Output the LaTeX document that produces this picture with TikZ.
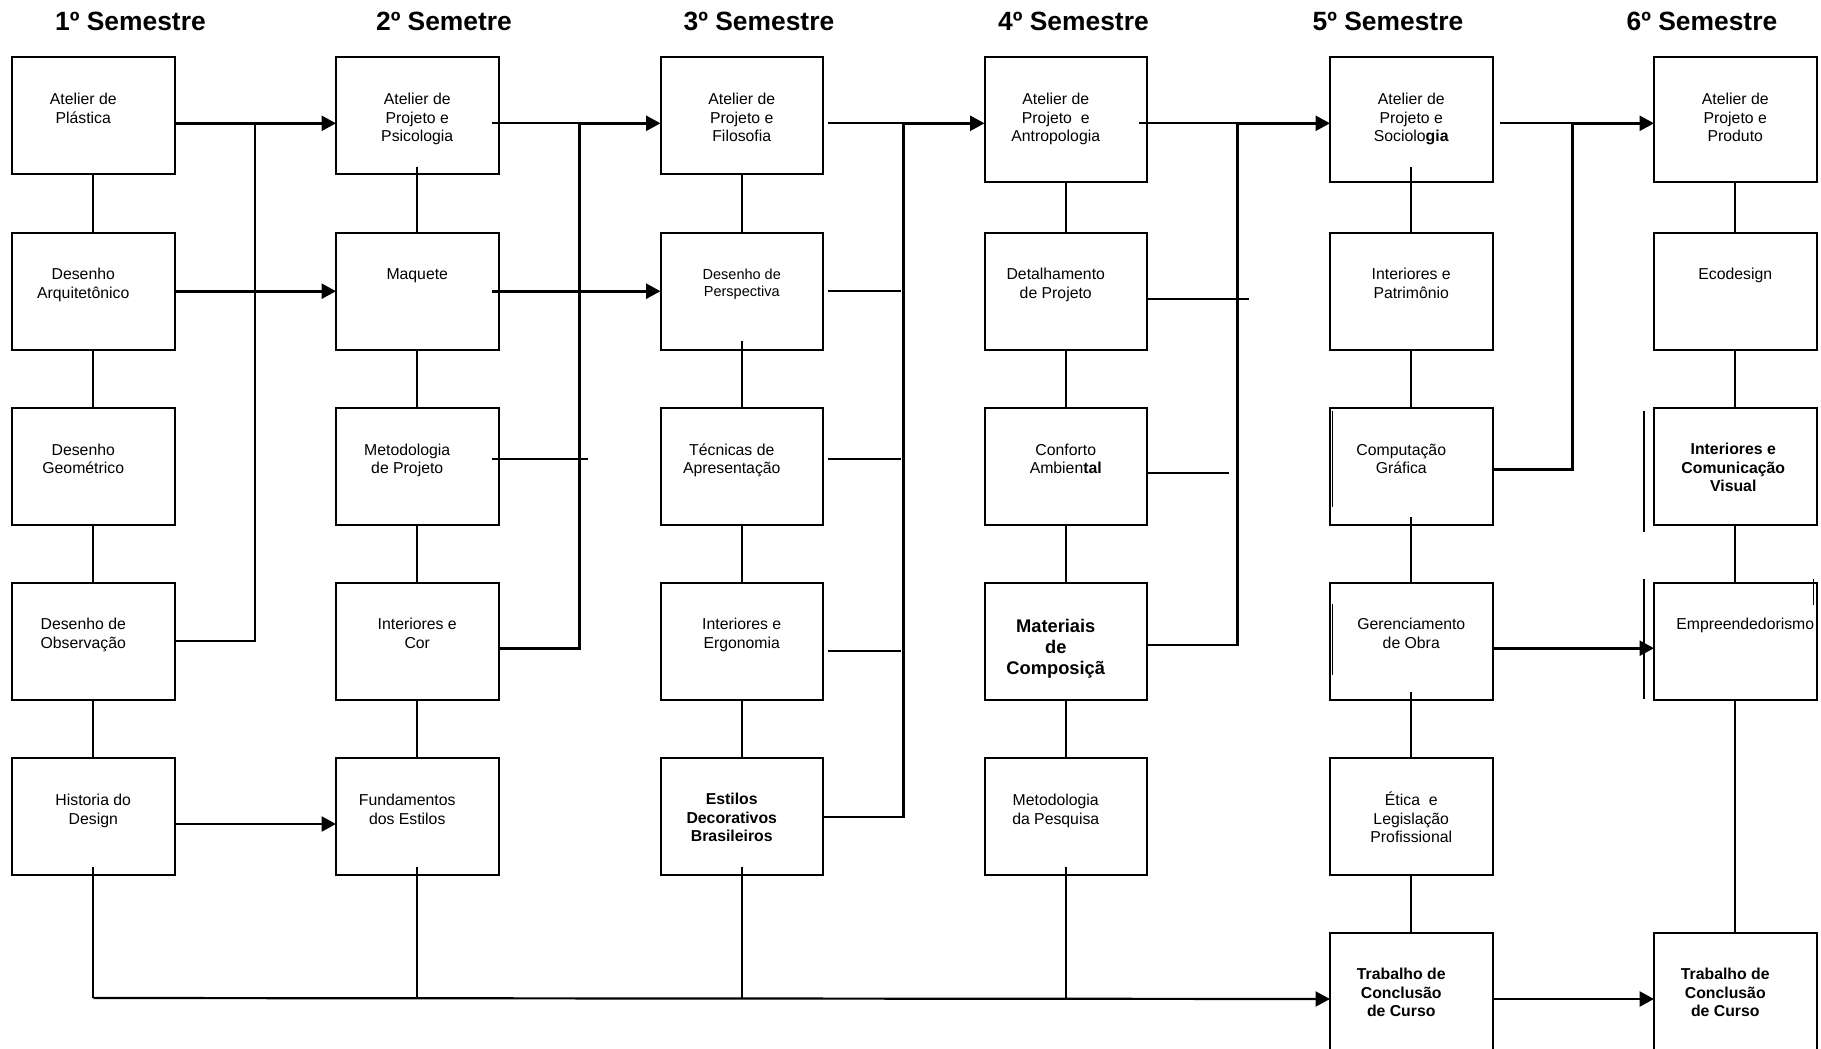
\documentclass[tikz,border=0pt]{standalone}
\usepackage{fontspec}
\setmainfont{Liberation Sans}
\usetikzlibrary{arrows.meta}
\tikzset{
  box/.style={draw, line width=2pt, minimum width=162.5pt, minimum height=117pt, anchor=north west, inner sep=0pt, outer sep=0pt},
  tallbox/.style={box, minimum height=124.4pt},
  tccbox/.style={box, minimum height=122pt},
  txt/.style={anchor=north, inner sep=0pt, align=center, font=\fontsize{15.8}{18.5}\selectfont},
  btxt/.style={txt, font=\fontsize{15.8}{18.5}\selectfont\bfseries},
  semtitle/.style={anchor=base, inner sep=0pt, font=\fontsize{26.4}{30}\selectfont\bfseries},
  thinln/.style={line width=1.8pt},
  thickln/.style={line width=2.6pt},
  busln/.style={line width=2.2pt},
  artline/.style={line width=1.5pt},
  arr/.style={-{Triangle[length=14.5pt,width=15pt]}},
}
\newcommand\firststrut{\rule{0pt}{15pt}}
\begin{document}
\begin{tikzpicture}[x=1pt,y=-1pt]
\fill[white] (0,0) rectangle (1821,1049);
\useasboundingbox (0,0) rectangle (1821,1049);

% titles
\node[semtitle] (s1) at (130.5,30.7) {1º Semestre};
\node[semtitle] (s2) at (444,30.7) {2º Semetre};
\node[semtitle] (s3) at (759,30.7) {3º Semestre};
\node[semtitle] (s4) at (1073.5,30.7) {4º Semestre};
\node[semtitle] (s5) at (1388,30.7) {5º Semestre};
\node[semtitle] (s6) at (1702,30.7) {6º Semestre};

% column 1
\node[box] (b11) at (12,57.3) {};
\node[box] (b12) at (12,232.7) {};
\node[box] (b13) at (12,408) {};
\node[box] (b14) at (12,582.7) {};
\node[box] (b15) at (12,758.3) {};
% column 2
\node[box] (b21) at (336,57.3) {};
\node[box] (b22) at (336,232.7) {};
\node[box] (b23) at (336,408) {};
\node[box] (b24) at (336,582.7) {};
\node[box] (b25) at (336,758.3) {};
% column 3
\node[box] (b31) at (660.5,57.3) {};
\node[box] (b32) at (660.5,232.7) {};
\node[box] (b33) at (660.5,408) {};
\node[box] (b34) at (660.5,582.7) {};
\node[box] (b35) at (660.5,758.3) {};
% column 4
\node[tallbox] (b41) at (984.5,57.3) {};
\node[box] (b42) at (984.5,232.7) {};
\node[box] (b43) at (984.5,408) {};
\node[box] (b44) at (984.5,582.7) {};
\node[box] (b45) at (984.5,758.3) {};
% column 5
\node[tallbox] (b51) at (1330,57.3) {};
\node[box] (b52) at (1330,232.7) {};
\node[box] (b53) at (1330,408) {};
\node[box] (b54) at (1330,582.7) {};
\node[box] (b55) at (1330,758.3) {};
\node[tccbox] (b56) at (1330,933) {};
% column 6
\node[tallbox] (b61) at (1654,57.3) {};
\node[box] (b62) at (1654,232.7) {};
\node[box] (b63) at (1654,408) {};
\node[box] (b64) at (1654,582.7) {};
\node[tccbox] (b66) at (1654,933) {};

% texts
\node[txt] (t11) at ([xshift=-10pt,yshift=-32pt]b11.north) {\firststrut Atelier de\\Plástica};
\node[txt] (t12) at ([xshift=-10pt,yshift=-32pt]b12.north) {\firststrut Desenho\\Arquitetônico};
\node[txt] (t13) at ([xshift=-10pt,yshift=-32pt]b13.north) {\firststrut Desenho\\Geométrico};
\node[txt] (t14) at ([xshift=-10pt,yshift=-32pt]b14.north) {\firststrut Desenho de\\Observação};
\node[txt] (t15) at ([yshift=-32pt]b15.north) {\firststrut Historia do\\Design};

\node[txt] (t21) at ([yshift=-32pt]b21.north) {\firststrut Atelier de\\Projeto e\\Psicologia};
\node[txt] (t22) at ([yshift=-32pt]b22.north) {\firststrut Maquete};
\node[txt] (t23) at ([xshift=-10pt,yshift=-32pt]b23.north) {\firststrut Metodologia\\de Projeto};
\node[txt] (t24) at ([yshift=-32pt]b24.north) {\firststrut Interiores e\\Cor};
\node[txt] (t25) at ([xshift=-10pt,yshift=-32pt]b25.north) {\firststrut Fundamentos\\dos Estilos};

\node[txt] (t31) at ([yshift=-32pt]b31.north) {\firststrut Atelier de\\Projeto e\\Filosofia};
\node[txt, font=\fontsize{14.5}{16.7}\selectfont] (t32) at ([yshift=-32pt]b32.north) {\firststrut Desenho de\\Perspectiva};
\node[txt] (t33) at ([xshift=-10pt,yshift=-32pt]b33.north) {\firststrut Técnicas de\\Apresentação};
\node[txt] (t34) at ([yshift=-32pt]b34.north) {\firststrut Interiores e\\Ergonomia};
\node[btxt] (t35) at ([xshift=-10pt,yshift=-31pt]b35.north) {\firststrut Estilos\\Decorativos\\Brasileiros};

\node[txt] (t41) at ([xshift=-10pt,yshift=-32pt]b41.north) {\firststrut Atelier de\\Projeto\ \ e\\Antropologia};
\node[txt] (t42) at ([xshift=-10pt,yshift=-32pt]b42.north) {\firststrut Detalhamento\\de Projeto};
\node[txt] (t43) at ([yshift=-32pt]b43.north) {\firststrut Conforto\\Ambien\textbf{tal}};
\node[txt, font=\fontsize{18.3}{21}\selectfont\bfseries] (t44) at ([xshift=-10pt,yshift=-35pt]b44.north) {\firststrut Materiais\\de\\Composiçã};
\node[txt] (t45) at ([xshift=-10pt,yshift=-32pt]b45.north) {\firststrut Metodologia\\da Pesquisa};

\node[txt] (t51) at ([yshift=-32pt]b51.north) {\firststrut Atelier de\\Projeto e\\Sociolo\textbf{gia}};
\node[txt] (t52) at ([yshift=-32pt]b52.north) {\firststrut Interiores e\\Patrimônio};
\node[txt] (t53) at ([xshift=-10pt,yshift=-32pt]b53.north) {\firststrut Computação\\Gráfica};
\node[txt] (t54) at ([yshift=-32pt]b54.north) {\firststrut Gerenciamento\\de Obra};
\node[txt] (t55) at ([yshift=-32pt]b55.north) {\firststrut Ética\ \ e\\Legislação\\Profissional};
\node[btxt] (t56) at ([xshift=-10pt,yshift=-31.5pt]b56.north) {\firststrut Trabalho de\\Conclusão\\de Curso};

\node[txt] (t61) at ([yshift=-32pt]b61.north) {\firststrut Atelier de\\Projeto e\\Produto};
\node[txt] (t62) at ([yshift=-32pt]b62.north) {\firststrut Ecodesign};
\node[btxt] (t63) at ([xshift=-2pt,yshift=-31.7pt]b63.north) {\firststrut Interiores e\\Comunicação\\Visual};
\node[txt] (t64) at ([xshift=10pt,yshift=-32pt]b64.north) {\firststrut Empreendedorismo};
\node[btxt] (t66) at ([xshift=-10pt,yshift=-31.5pt]b66.north) {\firststrut Trabalho de\\Conclusão\\de Curso};

% junction coordinates
\coordinate (j1) at (255,123.3);
\coordinate (j2) at (579.3,123.3);
\coordinate (j3) at (903.7,123.3);
\coordinate (j4) at (1237.6,123.3);
\coordinate (j5) at (1572.3,123.3);
\coordinate (jb) at (93.25,998);
\coordinate (s23) at (588.4,459);
\coordinate (s32) at (900.5,291.2);
\coordinate (s33) at (900.5,459);
\coordinate (s34) at (900.5,651);
\coordinate (s42) at (1248.7,299);
\coordinate (s43) at (1228.5,473.3);

% column 1 -> 2
\draw[thickln,arr] ([yshift=-7.5pt]b11.east) -- ([yshift=-7.5pt]b21.west);
\draw[thickln,arr] (b12.east) -- (b22.west);
\draw[thickln,arr] ([yshift=-7.2pt]b15.east) -- ([yshift=-7.2pt]b25.west);
\draw[thinln] (j1) |- (b14.east);

% column 2 -> 3
\draw[thinln] ([xshift=-6.6pt,yshift=-7.5pt]b21.east) -- (j2);
\draw[thickln,arr] (j2) -- ([yshift=-7.5pt]b31.west);
\draw[thickln] (j2) |- ([yshift=-7.1pt]b24.east);
\draw[thickln,arr] ([xshift=-6.6pt]b22.east) -- (b32.west);
\draw[thinln] ([xshift=-7pt,yshift=7.5pt]b23.east) -- (s23);

% column 3 -> 4
\draw[thinln] ([xshift=4.6pt,yshift=-7.5pt]b31.east) -- (j3);
\draw[thickln,arr] (j3) -- ([yshift=-3.8pt]b41.west);
\draw[thickln] (j3) |- (b35.east);
\draw[thinln] ([xshift=4.6pt]b32.east) -- (s32);
\draw[thinln] ([xshift=4.6pt,yshift=7.5pt]b33.east) -- (s33);
\draw[thinln] ([xshift=4.6pt,yshift=-9.8pt]b34.east) -- (s34);

% column 4 -> 5
\draw[thinln] ([xshift=-7.6pt,yshift=-3.8pt]b41.east) -- (j4);
\draw[thickln,arr] (j4) -- ([yshift=-3.8pt]b51.west);
\draw[thickln] (j4) |- ([yshift=-3.8pt]b44.east);
\draw[thinln] ([yshift=-7.8pt]b42.east) -- (s42);
\draw[thinln] ([yshift=-6.8pt]b43.east) -- (s43);

% column 5 -> 6
\draw[thinln] ([xshift=7.5pt,yshift=-3.8pt]b51.east) -- (j5);
\draw[thickln,arr] (j5) -- ([yshift=-3.8pt]b61.west);
\draw[thickln] (j5) |- ([yshift=-2.8pt]b53.east);
\draw[thickln,arr] ([yshift=-7pt]b54.east) -- ([yshift=-7pt]b64.west);
\draw[thickln,arr] ([yshift=-5pt]b56.east) -- ([yshift=-5pt]b66.west);

% vertical chains
\draw[thinln] (b11.south) -- (b12.north);
\draw[thinln] (b12.south) -- (b13.north);
\draw[thinln] (b13.south) -- (b14.north);
\draw[thinln] (b14.south) -- (b15.north);
\draw[thinln] ([yshift=8.5pt]b15.south) -- (jb);

\draw[thinln] ([yshift=7.6pt]b21.south) -- (b22.north);
\draw[thinln] (b22.south) -- (b23.north);
\draw[thinln] (b23.south) -- (b24.north);
\draw[thinln] (b24.south) -- (b25.north);
\draw[thinln] ([yshift=8.5pt]b25.south) -- (b25.south |- jb);

\draw[thinln] (b31.south) -- (b32.north);
\draw[thinln] ([yshift=8.3pt]b32.south) -- (b33.north);
\draw[thinln] (b33.south) -- (b34.north);
\draw[thinln] (b34.south) -- (b35.north);
\draw[thinln] ([yshift=8.5pt]b35.south) -- (b35.south |- jb);

\draw[thinln] (b41.south) -- (b42.north);
\draw[thinln] (b42.south) -- (b43.north);
\draw[thinln] (b43.south) -- (b44.north);
\draw[thinln] (b44.south) -- (b45.north);
\draw[thinln] ([yshift=8.5pt]b45.south) -- (b45.south |- jb);

\draw[thinln] ([yshift=15pt]b51.south) -- (b52.north);
\draw[thinln] (b52.south) -- (b53.north);
\draw[thinln] ([yshift=7.7pt]b53.south) -- (b54.north);
\draw[thinln] ([yshift=7.3pt]b54.south) -- (b55.north);
\draw[thinln] (b55.south) -- (b56.north);

\draw[thinln] (b61.south) -- (b62.north);
\draw[thinln] (b62.south) -- (b63.north);
\draw[thinln] (b63.south) -- (b64.north);
\draw[thinln] (b64.south) -- (b66.north);

% bottom bus
\draw[busln,arr] (jb) -- ([yshift=-5pt]b56.west);

% stray edge strokes
\draw[artline] (1644,410.7) -- (1644,531.7);
\draw[artline] (1644,579) -- (1644,699);
\draw[artline] (1332.6,410.7) -- (1332.6,506.7);
\draw[artline] (1332.6,604) -- (1332.6,675);
\draw[artline] (1813.5,579) -- (1813.5,605);
\end{tikzpicture}
\end{document}
